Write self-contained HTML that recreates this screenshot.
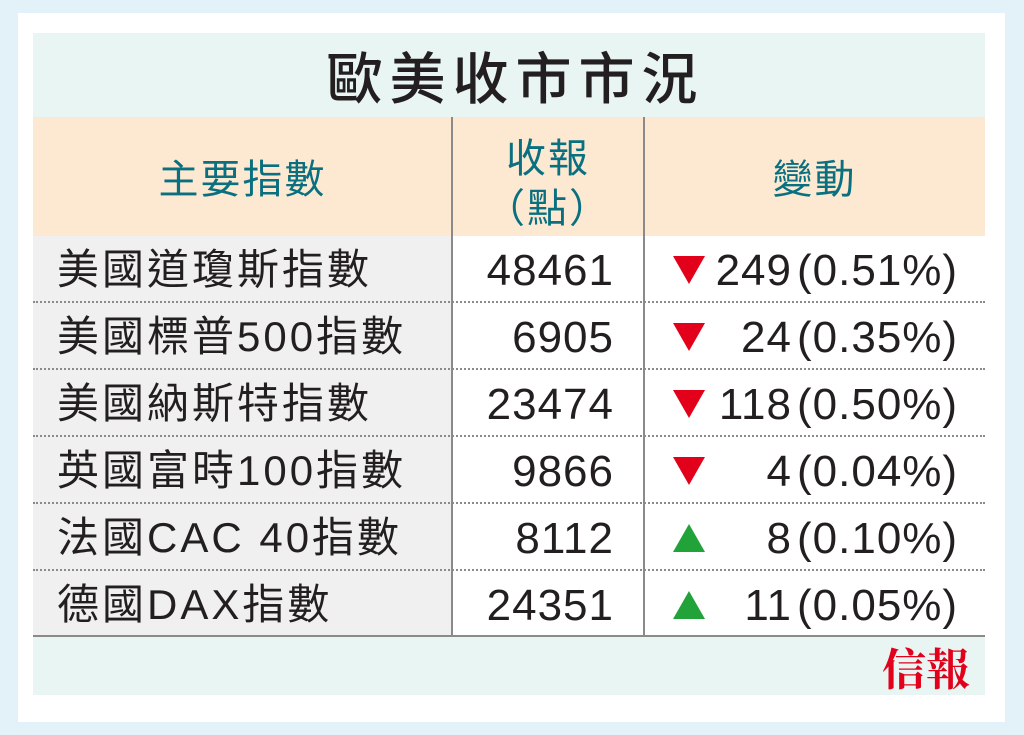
<!DOCTYPE html>
<html><head><meta charset="utf-8"><style>
*{margin:0;padding:0;box-sizing:border-box}
body{width:1024px;height:735px;background:#e3f1f8;position:relative;overflow:hidden;font-family:"Liberation Sans","Noto Sans CJK TC",sans-serif;color:#231f20}
.card{position:absolute;left:18px;top:13px;width:987px;height:709px;background:#fff}
.a{position:absolute}
.t{position:absolute;line-height:1;white-space:nowrap}
.dot{position:absolute;left:33px;width:952px;border-top:2px dotted #8a8a8a}
.tri{position:absolute;width:0;height:0;border-left:16px solid transparent;border-right:16px solid transparent}
.n{font-size:44px;letter-spacing:1px}
.c{font-size:42px;letter-spacing:3px}
</style></head><body>
<div class="card"></div>
<div class="a" style="left:33px;top:33px;width:952px;height:662px;background:#e8f5f3"></div>
<div class="t" style="left:0;width:1024px;text-align:center;top:48px;font-size:56px;letter-spacing:7px;font-family:'Noto Sans CJK TC',sans-serif;font-weight:500;padding-left:7px">歐美收市市況</div>
<div class="a" style="left:33px;top:117px;width:952px;height:119px;background:#fde9d2"></div>
<div class="a" style="left:33px;top:236px;width:419px;height:400px;background:#f0f0f0"></div>
<div class="a" style="left:452px;top:236px;width:533px;height:400px;background:#fff"></div>
<div class="a" style="left:451px;top:117px;width:2px;height:519px;background:#8a8a8a"></div>
<div class="a" style="left:643px;top:117px;width:2px;height:519px;background:#8a8a8a"></div>
<div class="a" style="left:33px;top:635px;width:952px;height:2px;background:#8a8a8a"></div>
<div class="t" style="left:33px;width:419px;text-align:center;top:156px;font-size:40px;letter-spacing:2px;color:#0a7080;font-family:'Noto Sans CJK TC',sans-serif">主要指數</div>
<div class="t" style="left:452px;width:192px;text-align:center;top:130px;font-size:40px;letter-spacing:2px;color:#0a7080;font-family:'Noto Sans CJK TC',sans-serif;line-height:50px">收報<br>（點）</div>
<div class="t" style="left:644px;width:341px;text-align:center;top:156px;font-size:40px;letter-spacing:2px;color:#0a7080;font-family:'Noto Sans CJK TC',sans-serif">變動</div>
<div class="dot" style="top:301px"></div>
<div class="dot" style="top:368px"></div>
<div class="dot" style="top:435px"></div>
<div class="dot" style="top:502px"></div>
<div class="dot" style="top:569px"></div>

<div style="position:absolute;left:0;top:0">
<div class="t c" style="left:57px;top:249px">美國道瓊斯指數</div>
<div class="t c" style="left:57px;top:316px">美國標普500指數</div>
<div class="t c" style="left:57px;top:383px">美國納斯特指數</div>
<div class="t c" style="left:57px;top:450px">英國富時100指數</div>
<div class="t c" style="left:57px;top:517px">法國CAC 40指數</div>
<div class="t c" style="left:57px;top:584px">德國DAX指數</div>

<div class="t n" style="left:452px;width:162px;text-align:right;top:249px">48461</div>
<div class="t n" style="left:452px;width:162px;text-align:right;top:316px">6905</div>
<div class="t n" style="left:452px;width:162px;text-align:right;top:383px">23474</div>
<div class="t n" style="left:452px;width:162px;text-align:right;top:450px">9866</div>
<div class="t n" style="left:452px;width:162px;text-align:right;top:517px">8112</div>
<div class="t n" style="left:452px;width:162px;text-align:right;top:584px">24351</div>

<div class="tri" style="left:673px;top:256px;border-top:28px solid #e2001a"></div>
<div class="tri" style="left:673px;top:323px;border-top:28px solid #e2001a"></div>
<div class="tri" style="left:673px;top:390px;border-top:28px solid #e2001a"></div>
<div class="tri" style="left:673px;top:457px;border-top:28px solid #e2001a"></div>
<div class="tri" style="left:673px;top:524px;border-bottom:28px solid #22a33a"></div>
<div class="tri" style="left:673px;top:591px;border-bottom:28px solid #22a33a"></div>

<div class="t n" style="left:690px;width:102px;text-align:right;top:249px">249</div>
<div class="t n" style="left:690px;width:102px;text-align:right;top:316px">24</div>
<div class="t n" style="left:690px;width:102px;text-align:right;top:383px">118</div>
<div class="t n" style="left:690px;width:102px;text-align:right;top:450px">4</div>
<div class="t n" style="left:690px;width:102px;text-align:right;top:517px">8</div>
<div class="t n" style="left:690px;width:102px;text-align:right;top:584px">11</div>

<div class="t n" style="left:797px;top:249px">(0.51%)</div>
<div class="t n" style="left:797px;top:316px">(0.35%)</div>
<div class="t n" style="left:797px;top:383px">(0.50%)</div>
<div class="t n" style="left:797px;top:450px">(0.04%)</div>
<div class="t n" style="left:797px;top:517px">(0.10%)</div>
<div class="t n" style="left:797px;top:584px">(0.05%)</div>
</div>

<div class="t" style="left:882px;top:644px;font-size:44px;color:#e2001a;font-weight:bold;font-family:'Noto Serif CJK SC','Noto Sans CJK TC',serif">信報</div>
</body></html>
